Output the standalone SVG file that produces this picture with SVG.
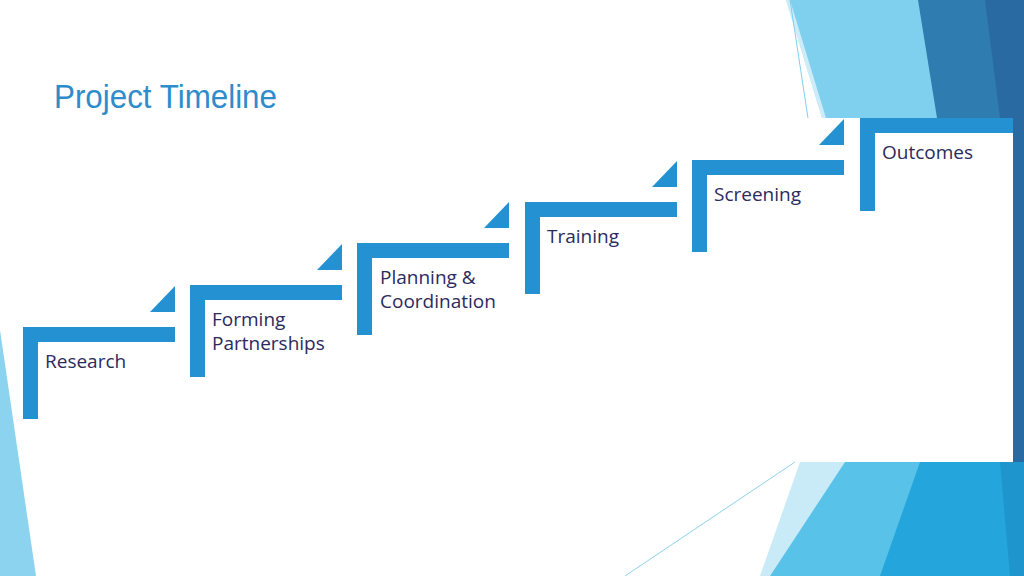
<svg xmlns="http://www.w3.org/2000/svg" width="1024" height="576" viewBox="0 0 1024 576">
<style>
.bar{fill:#2391d2}
.lbl{font-family:"Open Sans","Noto Sans",sans-serif;font-size:19px;fill:#2b2a5c}
</style>
<rect width="1024" height="576" fill="#fff"/>
<g id="background">
<polygon points="0,330 36,576 0,576" fill="#8bd3ef"/>
<polygon points="786,0 920,0 940,118 822,118" fill="#7fcfee"/>
<polygon points="786,0 790,0 826,118 822,118" fill="#ffffff" opacity="0.6"/>
<line x1="790" y1="0" x2="808" y2="118" stroke="#7fcfee" stroke-width="1"/>
<polygon points="918,0 1024,0 1024,118 937,118" fill="#2f7cb0"/>
<polygon points="985,0 1024,0 1024,118 1000,118" fill="#2a6aa3"/>
<polygon points="1013,118 1024,118 1024,462 1013,462" fill="#2a6aa3"/>
<polygon points="800,462 845,462 790,576 760,576" fill="#c9ebf7"/>
<polygon points="845,462 1024,462 1024,576 770,576" fill="#58c2e8"/>
<polygon points="920,462 1024,462 1024,576 880,576" fill="#24a6dc"/>
<polygon points="1000,462 1024,462 1024,576 1010,576" fill="#1e95cc"/>
<line x1="625" y1="576" x2="795" y2="462" stroke="#8ed2ec" stroke-width="1"/>
<rect x="840" y="118" width="173" height="344" fill="#fff"/>
</g>
<text x="54" y="108" font-family="Liberation Sans,Arial,sans-serif" font-size="33" fill="#2e8ccb" textLength="223" lengthAdjust="spacingAndGlyphs">Project Timeline</text>
<g id="steps">
<g id="s1"><path class="bar" d="M23,327H175V342H38V419H23Z"/><polygon class="bar" points="175,286 175,312 150,312"/><text class="lbl" x="45" y="368">Research</text></g>
<g id="s2"><path class="bar" d="M190,285H342V300H205V377H190Z"/><polygon class="bar" points="342,244 342,270 317,270"/><text class="lbl" x="212" y="326">Forming</text><text class="lbl" x="212" y="350">Partnerships</text></g>
<g id="s3"><path class="bar" d="M357,243H509V258H372V335H357Z"/><polygon class="bar" points="509,202 509,228 484,228"/><text class="lbl" x="380" y="284">Planning &amp;</text><text class="lbl" x="380" y="308">Coordination</text></g>
<g id="s4"><path class="bar" d="M525,202H677V217H540V294H525Z"/><polygon class="bar" points="677,161 677,187 652,187"/><text class="lbl" x="547" y="243">Training</text></g>
<g id="s5"><path class="bar" d="M692,160H844V175H707V252H692Z"/><polygon class="bar" points="844,119 844,145 819,145"/><text class="lbl" x="714" y="201">Screening</text></g>
<g id="s6"><path class="bar" d="M860,118H1013V133H875V211H860Z"/><text class="lbl" x="882" y="159">Outcomes</text></g>
</g>
<g id="connectors"/>
</svg>
